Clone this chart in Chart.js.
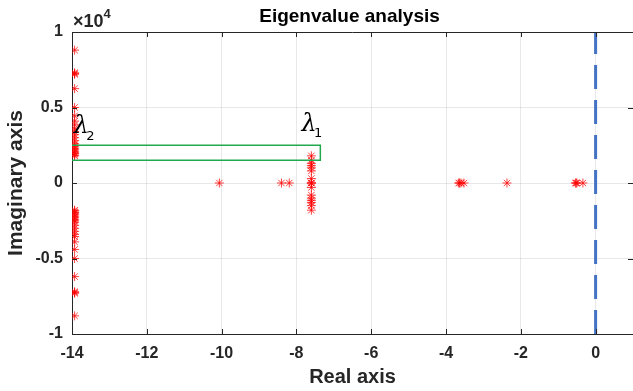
<!DOCTYPE html>
<html lang="en">
<head>
<meta charset="UTF-8">
<title>Eigenvalue analysis</title>
<script src="https://cdn.jsdelivr.net/npm/chart.js"></script>
<style>
  body { margin: 0; background: #fff; }
  #wrap { width: 633px; height: 391px; }
</style>
</head>
<body>
<div id="wrap"><canvas id="eig" width="633" height="391"></canvas></div>
<script>
const xTicks = [-14, -12, -10, -8, -6, -4, -2, 0];
const xTickLabels = ['-14', '-12', '-10', '-8', '-6', '-4', '-2', '0'];
const yTicks = [-10000, -5000, 0, 5000, 10000];
const yTickLabels = ['-1', '-0.5', '0', '0.5', '1'];

// modes near -14 (upper and lower halves)
const colAReal = -13.93;
const colAImagUp = [8800, 7300, 7250, 7200, 6250, 5000, 4450, 4100, 3850, 3600, 3400, 3200, 3000, 2800, 2600, 2500, 2400, 2300, 2200, 2100, 2000, 1950, 1850, 1800];
const colAImagDown = [-1800, -1850, -1950, -2000, -2100, -2200, -2300, -2400, -2500, -2600, -2800, -3000, -3200, -3400, -3550, -3900, -4400, -5000, -6200, -7200, -7250, -7300, -8800];
// modes near -7.6
const colBReal = -7.6;
const colBImag = [1800, 1500, 1300, 1150, 1000, 800, 300, 0, 0, 0, -300, -800, -1000, -1150, -1300, -1500, -1800];
// real modes
const realModes = [-10.06, -8.4, -8.19, -3.66, -3.64, -3.6, -3.52, -2.37, -0.54, -0.52, -0.5, -0.34];

// highlight box and stability limit
const boxX = [-14.03, -7.36];
const boxY = [1500, 2500];
const limitX = [0, 0];
const limitY = [-10000, 10000];

const lambdaLabels = [
  { sub: '2', x: -13.75, y: 3700 },
  { sub: '1', x: -7.66, y: 3850 }
];

const FONT = "'Liberation Sans', Arial, Helvetica, sans-serif";
const INK = '#262626';

const eigPts = []
  .concat(colAImagUp.map(v => ({ x: colAReal, y: v })))
  .concat(colAImagDown.map(v => ({ x: colAReal, y: v })))
  .concat(colBImag.map(v => ({ x: colBReal, y: v })))
  .concat(realModes.map(v => ({ x: v, y: 0 })));

const boxPts = [
  { x: boxX[0], y: boxY[0] }, { x: boxX[1], y: boxY[0] },
  { x: boxX[1], y: boxY[1] }, { x: boxX[0], y: boxY[1] },
  { x: boxX[0], y: boxY[0] }
];

const limitPts = limitX.map((v, i) => ({ x: v, y: limitY[i] }));

const decor = {
  id: 'decor',
  afterDraw(chart) {
    const { ctx, chartArea: a, scales } = chart;
    const xs = scales.x, ys = scales.y;
    ctx.save();
    // top border
    ctx.strokeStyle = INK;
    ctx.lineWidth = 1;
    ctx.beginPath();
    ctx.moveTo(a.left, a.top + 0.5);
    ctx.lineTo(a.right, a.top + 0.5);
    ctx.stroke();
    // inward ticks
    ctx.beginPath();
    xTicks.forEach(v => {
      const px = Math.round(xs.getPixelForValue(v)) + 0.5;
      ctx.moveTo(px, a.bottom); ctx.lineTo(px, a.bottom - 5);
      ctx.moveTo(px, a.top); ctx.lineTo(px, a.top + 5);
    });
    yTicks.forEach(v => {
      const py = Math.round(ys.getPixelForValue(v)) + 0.5;
      ctx.moveTo(a.left, py); ctx.lineTo(a.left + 5, py);
      ctx.moveTo(a.right, py); ctx.lineTo(a.right - 5, py);
    });
    ctx.stroke();

    // title
    ctx.fillStyle = '#000';
    ctx.textAlign = 'center';
    ctx.textBaseline = 'middle';
    ctx.font = 'bold 19px ' + FONT;
    ctx.fillText('Eigenvalue analysis', (a.left + a.right) / 2 - 3, 17);

    // exponent label
    ctx.fillStyle = INK;
    ctx.textAlign = 'left';
    ctx.textBaseline = 'alphabetic';
    ctx.font = 'bold 18px ' + FONT;
    ctx.fillText('\u00d710', a.left + 1, 27);
    const w = ctx.measureText('\u00d710').width;
    ctx.font = 'bold 13px ' + FONT;
    ctx.fillText('4', a.left + 1 + w, 18);

    // lambda markers
    ctx.fillStyle = '#000';
    lambdaLabels.forEach(l => {
      const px = xs.getPixelForValue(l.x), py = ys.getPixelForValue(l.y);
      ctx.font = 'italic 24px "DejaVu Serif", serif';
      ctx.textAlign = 'center';
      ctx.textBaseline = 'middle';
      ctx.fillText('\u03bb', px, py);
      ctx.font = '13px "DejaVu Sans", sans-serif';
      ctx.textAlign = 'left';
      ctx.fillText(l.sub, px + 5, py + 9);
    });
    ctx.restore();
  }
};

new Chart(document.getElementById('eig'), {
  type: 'scatter',
  data: {
    datasets: [
      {
        label: 'limit',
        data: limitPts,
        showLine: true,
        borderColor: '#4472c4',
        borderWidth: 3,
        borderDash: [24, 11],
        pointRadius: 0,
        order: 0
      },
      {
        label: 'box',
        data: boxPts,
        showLine: true,
        borderColor: '#22a94f',
        borderWidth: 1.5,
        pointRadius: 0,
        order: 1
      },
      {
        label: 'eigenvalues',
        data: eigPts,
        pointStyle: 'star',
        pointRadius: 4.5,
        borderColor: 'rgba(255,0,0,0.75)',
        backgroundColor: 'rgba(255,0,0,0.75)',
        borderWidth: 1,
        order: 2
      }
    ]
  },
  options: {
    responsive: false,
    animation: false,
    layout: { autoPadding: false, padding: { top: 32, right: 0, left: 0, bottom: 0 } },
    plugins: { legend: { display: false }, tooltip: { enabled: false } },
    scales: {
      x: {
        type: 'linear',
        min: -14,
        max: 1,
        afterFit: s => { s.height = 57; s.paddingRight = 0; s.paddingLeft = 0; },
        afterBuildTicks: s => { s.ticks = xTicks.map(v => ({ value: v })); },
        grid: { color: 'rgba(0,0,0,0.09)', drawTicks: false },
        border: { color: INK, width: 1 },
        ticks: {
          padding: 10,
          color: INK,
          font: { family: FONT, size: 16, weight: 'bold' },
          maxRotation: 0,
          callback: v => xTickLabels[xTicks.indexOf(v)] ?? ''
        },
        title: {
          display: true,
          text: 'Real axis',
          color: INK,
          font: { family: FONT, size: 20, weight: 'bold' },
          padding: { top: 0, bottom: 2 }
        }
      },
      y: {
        type: 'linear',
        min: -10000,
        max: 10000,
        afterFit: s => { s.width = 72; s.paddingTop = 0; s.paddingBottom = 0; },
        afterBuildTicks: s => { s.ticks = yTicks.map(v => ({ value: v })); },
        grid: { color: 'rgba(0,0,0,0.09)', drawTicks: false },
        border: { color: INK, width: 1 },
        ticks: {
          padding: 9,
          color: INK,
          font: { family: FONT, size: 16, weight: 'bold' },
          callback: v => yTickLabels[yTicks.indexOf(v)] ?? ''
        },
        title: {
          display: true,
          text: 'Imaginary axis',
          color: INK,
          font: { family: FONT, size: 21, weight: 'bold' },
          padding: { top: 4, bottom: 0 }
        }
      }
    }
  },
  plugins: [decor]
});
</script>
</body>
</html>
